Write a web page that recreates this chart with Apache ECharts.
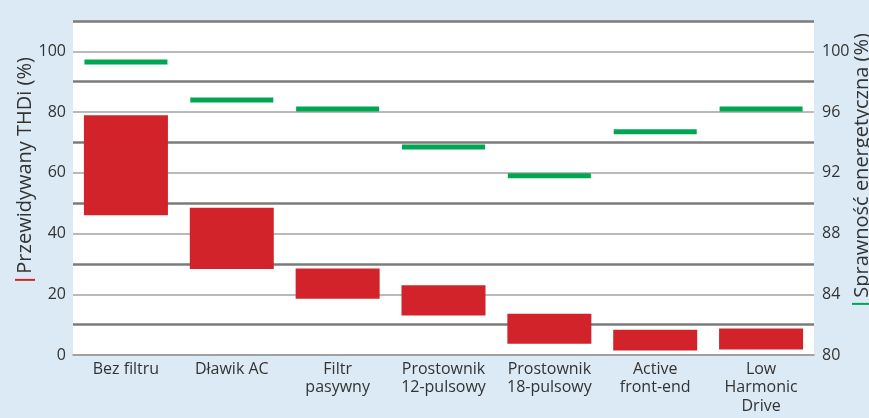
<!doctype html>
<html lang="pl">
<head>
    <meta charset="UTF-8">
    <title>THDi i sprawność</title>
    <script src="https://cdn.jsdelivr.net/npm/echarts@6/dist/echarts.min.js"></script>
    <style>
        html, body { margin: 0; padding: 0; background: #dbeaf4; }
        #main { width: 869px; height: 418px; }
    </style>
</head>
<body>
<div id="main"></div>
<script>
    // kategorie (rozwiązania)
    var categories = ['Bez filtru', 'Dławik AC', 'Filtr\npasywny', 'Prostownik\n12-pulsowy',
        'Prostownik\n18-pulsowy', 'Active\nfront-end', 'Low\nHarmonic\nDrive'];
    // zakres THDi (%) - dolna i górna granica
    var thdiLow = [46, 28.3, 18.5, 13, 3.7, 1.5, 1.8];
    var thdiHigh = [79, 48.5, 28.5, 23, 13.6, 8.3, 8.7];
    // sprawność energetyczna (%)
    var efficiency = [99.3, 96.8, 96.2, 93.7, 91.8, 94.7, 96.2];

    var thdiSpan = thdiHigh.map(function (v, i) { return v - thdiLow[i]; });

    var font = 'Open Sans';
    var myChart = echarts.init(document.getElementById('main'));
    var option = {
        backgroundColor: '#dbeaf4',
        textStyle: {fontFamily: font},
        grid: {
            left: 73, right: 55, top: 21, bottom: 63,
            outerBoundsMode: 'none',
            containLabel: false,
            show: true, backgroundColor: '#fff', borderWidth: 0
        },
        xAxis: {
            type: 'category',
            data: categories,
            axisTick: {show: false},
            axisLine: {lineStyle: {color: '#9a9a9a', width: 1.5}},
            axisLabel: {color: '#333', fontSize: 16, lineHeight: 18.5, margin: 5, interval: 0}
        },
        yAxis: [{
            type: 'value',
            min: 0, max: 110, interval: 10,
            position: 'left',
            name: '{r| } Przewidywany THDi (%)',
            nameLocation: 'middle',
            nameRotate: 90,
            nameGap: 38,
            nameMoveOverlap: false,
            nameTextStyle: {
                color: '#333', fontSize: 20, padding: [0, 0, 0, 38],
                rich: {r: {backgroundColor: '#d2232a', width: 2, height: 20, fontSize: 20}}
            },
            axisLine: {show: false},
            axisTick: {show: false},
            axisLabel: {
                color: '#333', fontSize: 16, margin: 7,
                formatter: function (v) { return (v % 20 === 0 && v <= 100) ? v : ''; }
            },
            splitLine: {lineStyle: {color: ['#a3a3a3', 'rgba(0,0,0,0)'], width: 1.5}}
        }, {
            type: 'value',
            min: 80, max: 102, interval: 2,
            position: 'right',
            name: '{g| } Sprawność energetyczna (%)',
            nameLocation: 'middle',
            nameRotate: 90,
            nameGap: 38,
            nameMoveOverlap: false,
            nameTextStyle: {
                color: '#333', fontSize: 20, padding: [0, 0, 0, 38],
                rich: {g: {backgroundColor: '#00a651', width: 2, height: 20, fontSize: 20}}
            },
            axisLine: {show: false},
            axisTick: {show: false},
            axisLabel: {
                color: '#333', fontSize: 16, margin: 8,
                formatter: function (v) { return (v % 4 === 0 && v <= 100) ? v : ''; }
            },
            splitLine: {show: false}
        }, {
            // tylko ciemniejsze linie siatki (10, 30, 50 ...)
            type: 'value',
            min: 0, max: 110, interval: 10,
            position: 'left',
            axisLine: {show: false},
            axisTick: {show: false},
            axisLabel: {show: false},
            splitLine: {lineStyle: {color: ['rgba(0,0,0,0)', '#7b7b7b'], width: 2.5}}
        }],
        series: [{
            type: 'bar',
            stack: 'thdi',
            data: thdiLow,
            barWidth: 84,
            itemStyle: {color: 'rgba(0,0,0,0)'},
            silent: true
        }, {
            type: 'bar',
            stack: 'thdi',
            data: thdiSpan,
            barWidth: 84,
            itemStyle: {color: '#d2232a'}
        }, {
            type: 'scatter',
            yAxisIndex: 1,
            data: efficiency,
            symbol: 'rect',
            symbolSize: [83, 5],
            itemStyle: {color: '#00a651', opacity: 1}
        }]
    };
    myChart.setOption(option);
</script>
</body>
</html>
